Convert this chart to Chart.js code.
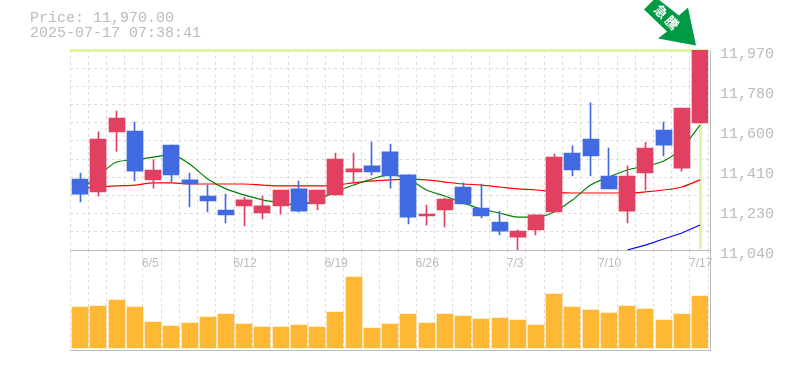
<!DOCTYPE html>
<html><head><meta charset="utf-8">
<script src="https://cdn.jsdelivr.net/npm/chart.js@4"></script>
<style>
html,body{margin:0;padding:0;background:#fff;width:785px;height:370px;overflow:hidden}
canvas{position:absolute;left:0;top:0}
#head{position:absolute;left:30px;top:11px;font:15px/15px "Liberation Mono",monospace;color:#bbb;white-space:pre;z-index:3}
#c1{z-index:2}#c2{z-index:1}
</style></head><body>
<div id="head">Price: 11,970.00
2025-07-17 07:38:41</div>
<canvas id="c2" width="785" height="370"></canvas>
<canvas id="c1" width="785" height="275"></canvas>
<script>
const categories=['5/30','6/2','6/3','6/4','6/5','6/6','6/9','6/10','6/11','6/12','6/13','6/16','6/17','6/18','6/19','6/20','6/23','6/24','6/25','6/26','6/27','6/30','7/1','7/2','7/3','7/4','7/7','7/8','7/9','7/10','7/11','7/14','7/15','7/16','7/17'];
const xTickLabels=['6/5','6/12','6/19','6/26','7/3','7/10','7/17'];
const yTickValues=[11970,11784,11598,11412,11226,11040];
const opens=[11370,11310,11589,11593,11366,11528,11366,11291,11226,11245,11212,11245,11324,11254,11296,11403,11431,11496,11389,11198,11226,11333,11235,11170,11100,11133,11217,11491,11556,11384,11221,11398,11598,11421,11631];
const closes=[11300,11556,11654,11407,11412,11389,11347,11268,11203,11273,11245,11319,11221,11319,11463,11417,11403,11384,11193,11207,11277,11254,11198,11128,11128,11203,11472,11412,11477,11324,11384,11514,11528,11700,11970];
const highs=[11398,11589,11686,11635,11459,11528,11398,11342,11300,11286,11291,11319,11361,11319,11491,11491,11542,11533,11389,11249,11282,11352,11347,11221,11133,11203,11486,11524,11724,11514,11431,11542,11635,11700,11970];
const lows=[11263,11291,11500,11361,11328,11356,11240,11217,11166,11152,11184,11207,11217,11226,11296,11352,11389,11328,11161,11156,11147,11254,11189,11110,11040,11110,11217,11384,11384,11324,11166,11319,11477,11407,11631];
const maShort=[11319,11384,11449,11459,11472,11482,11440,11370,11324,11296,11273,11259,11249,11273,11310,11342,11370,11389,11370,11319,11291,11259,11231,11212,11193,11193,11217,11273,11342,11379,11412,11431,11454,11514,11621];
const maMid=[11328,11333,11338,11342,11352,11352,11347,11347,11347,11347,11342,11338,11338,11338,11342,11352,11361,11366,11370,11366,11356,11347,11342,11333,11324,11319,11310,11305,11305,11305,11305,11310,11319,11333,11366];
const maLong=[null,null,null,null,null,null,null,null,null,null,null,null,null,null,null,null,null,null,null,null,null,null,null,null,null,null,null,null,null,null,11040,11063,11091,11119,11156];
const volumes=[41000,42000,48000,41000,26000,22000,25000,31000,34000,24000,21000,21000,23000,21000,36000,71000,20000,24000,34000,25000,34000,32000,29000,30000,28000,23000,54000,41000,38000,35000,42000,39000,28000,34000,52000];
const lastPrice=11970, priceMin=11040, priceMax=11970, gridDivisions=11;

const UP='#e24060',DOWN='#4169e1',GRID='#dddddd',AXIS='#bbbbbb',HILITE='#e0f5a0';
const AREA_LEFT=70, AXIS_W=76.8;
const barColors=opens.map((o,i)=>closes[i]>=o?UP:DOWN);
const fontMono={family:'"Liberation Mono",monospace',size:15};
const fontSans={family:'"Liberation Sans",Arial,sans-serif',size:12};
const fixW=w=>a=>{a.width=w};const fixH=h=>a=>{a.height=h};

const snap={id:'snap',beforeDatasetsDraw(c){c.data.datasets.forEach((d,i)=>{const m=c.getDatasetMeta(i);if(m._done)return;m._done=true;
  m.data.forEach(el=>{if(d.type==='bar'){const t=d.barThickness;el.x=Math.round(el.x-t/2+1)+t/2;}
   else{el.x+=1;if(el.cp1x!==undefined){el.cp1x+=1;el.cp2x+=1;}}});});}};
const overlay={id:'overlay',
 beforeDatasetsDraw(c){const g=c.ctx,y=c.scales.y,x=c.scales.x,p=y.getPixelForValue(lastPrice),q=x.getPixelForValue(categories.length-1);
  g.save();g.fillStyle=HILITE;g.fillRect(c.chartArea.left,Math.round(p)-1,c.chartArea.width,3);
  g.fillRect(Math.round(q),p,3,c.chartArea.bottom-p-1);
  g.fillStyle=AXIS;g.fillRect(c.chartArea.left,Math.round(c.chartArea.bottom),641,1);g.fillRect(710,Math.round(c.chartArea.top),1,c.chartArea.height);g.restore();},
 afterDraw(c){const g=c.ctx,y=c.scales.y,x=c.scales.x,tx=Math.round(x.getPixelForValue(categories.length-1))-3,ty=y.getPixelForValue(lastPrice)-4.5;
  g.save();g.translate(tx,ty);g.fillStyle='#009944';g.beginPath();
  g.moveTo(0,0);g.lineTo(-38,-7);g.lineTo(-29,-14);g.lineTo(-52,-36);g.lineTo(-40,-48);g.lineTo(-17,-30);g.lineTo(-8,-38);g.closePath();g.fill();
  g.fillStyle='#fff';g.font='bold 13px "Noto Sans CJK JP"';g.textAlign='center';g.textBaseline='middle';
  [['急',-35,-34],['騰',-24,-23]].forEach(([s,a,b])=>{g.save();g.translate(a,b);g.rotate(Math.PI/4);g.fillText(s,0,0);g.restore();});
  g.restore();}};
const frame2={id:'frame2',afterDatasetsDraw(c){const g=c.ctx;g.save();g.fillStyle=AXIS;g.fillRect(c.chartArea.left,350,641,1);g.fillRect(710,250,1,101);g.restore();}};

new Chart(document.getElementById('c1'),{
 data:{labels:categories,datasets:[
  {type:'bar',data:closes.map((c,i)=>[opens[i],c]),backgroundColor:barColors,barThickness:16,grouped:false,order:1},
  {type:'bar',data:lows.map((l,i)=>[l,highs[i]]),backgroundColor:barColors,barThickness:1,grouped:false,order:2},
  {type:'line',data:maShort,borderColor:'#008000',borderWidth:1.2,pointRadius:0,cubicInterpolationMode:'monotone',order:3},
  {type:'line',data:maMid,borderColor:'#ff0000',borderWidth:1.2,pointRadius:0,cubicInterpolationMode:'monotone',order:3},
  {type:'line',data:maLong,borderColor:'#0000ff',borderWidth:1.2,pointRadius:0,order:3}
 ]},
 plugins:[overlay,snap],
 options:{responsive:false,animation:false,events:[],
  layout:{padding:{left:AREA_LEFT,top:50,right:0,bottom:0}},
  plugins:{legend:{display:false},tooltip:{enabled:false}},
  scales:{
   x:{offset:true,afterFit:fixH(25),
      grid:{offset:true,color:GRID,drawTicks:false},border:{display:false,dash:[3,3]},
      ticks:{autoSkip:false,maxRotation:0,padding:6,align:'start',labelOffset:-10,color:AXIS,font:fontSans,callback(v,i){const s=categories[i];return xTickLabels.includes(s)?s:''}}},
   y:{position:'right',min:priceMin,max:priceMax,afterFit:fixW(AXIS_W),
      afterBuildTicks(a){a.ticks=yTickValues.map(v=>({value:v}))},
      grid:{display:false,drawTicks:false},border:{display:false},
      ticks:{padding:11.8,labelOffset:4,color:AXIS,font:fontMono,callback(v){return (Math.round(v/10)*10).toLocaleString('en-US')}}},
   yGrid:{position:'left',min:priceMin,max:priceMax,afterFit:fixW(0),
      afterBuildTicks(a){const t=[];for(let i=0;i<=gridDivisions;i++)t.push({value:priceMin+(priceMax-priceMin)*i/gridDivisions});a.ticks=t},
      grid:{color:GRID,drawTicks:false},border:{display:false,dash:[3,3]},ticks:{display:false}}
  }}
});
new Chart(document.getElementById('c2'),{
 data:{labels:categories,datasets:[{type:'bar',data:volumes,backgroundColor:'#ffb833',barThickness:16}]},
 plugins:[frame2,snap],
 options:{responsive:false,animation:false,events:[],
  layout:{padding:{left:AREA_LEFT,top:250,right:AXIS_W,bottom:19}},
  plugins:{legend:{display:false},tooltip:{enabled:false}},
  scales:{
   x:{offset:true,afterFit:fixH(1),grid:{offset:true,color:GRID,drawTicks:false},border:{display:false,dash:[3,3]},ticks:{display:false}},
   y:{position:'right',min:-2000,max:98000,afterFit:fixW(0),grid:{display:false},border:{display:false},ticks:{display:false}}
  }}
});
</script></body></html>
